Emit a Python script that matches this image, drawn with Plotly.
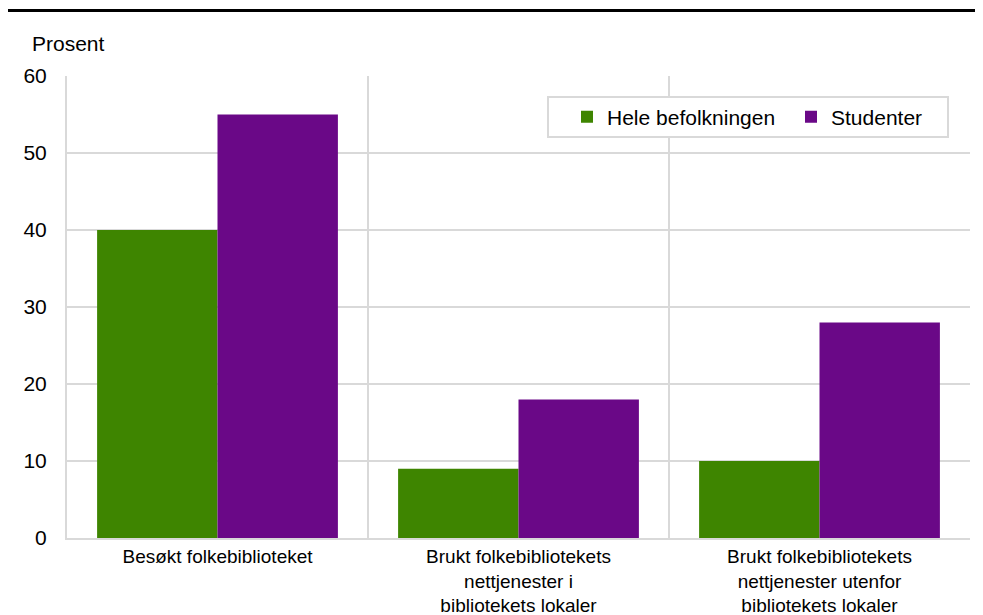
import plotly.graph_objects as go

categories = [
    "Besøkt folkebiblioteket",
    "Brukt folkebibliotekets<br>nettjenester i<br>bibliotekets lokaler",
    "Brukt folkebibliotekets<br>nettjenester utenfor<br>bibliotekets lokaler",
]
series_names = ["Hele befolkningen", "Studenter"]
hele_befolkningen = [40, 9, 10]
studenter = [55, 18, 28]
y_ticks = [0, 10, 20, 30, 40, 50, 60]

GREEN = "#3E8500"
PURPLE = "#6A0887"
GRID = "#D9D9D9"
FONT = "Liberation Sans, Arial, sans-serif"

# page offset (default body margin of the html page)
OFF = 8
W, H = 983, 615 - OFF
# plot area in window pixels
PX_L, PX_R, PX_T, PX_B = 67, 970, 76, 538
L = PX_L - OFF
R = (W + OFF) - PX_R
T = PX_T - OFF
B = (H + OFF) - PX_B
pw, ph = W - L - R, H - T - B


def px_x(x):
    return (x - OFF - L) / pw


def px_y(y):
    return (PX_B - y) / ph


fig = go.Figure()
fig.add_trace(go.Bar(x=categories, y=hele_befolkningen, name=series_names[0],
                     marker=dict(color=GREEN, line=dict(width=0)), legend="legend"))
fig.add_trace(go.Bar(x=categories, y=studenter, name=series_names[1],
                     marker=dict(color=PURPLE, line=dict(width=0)), legend="legend2"))

leg_common = dict(orientation="h", yanchor="middle", xanchor="left",
                  bgcolor="rgba(0,0,0,0)", borderwidth=0, font=dict(size=21),
                  itemwidth=30)

fig.update_layout(
    width=W, height=H,
    margin=dict(l=L, r=R, t=T, b=B, pad=0, autoexpand=False),
    paper_bgcolor="white", plot_bgcolor="white",
    font=dict(family=FONT, size=21, color="black"),
    barmode="group", bargap=0.2, bargroupgap=0,
    showlegend=True,
    legend=dict(x=px_x(567), y=px_y(117), **leg_common),
    legend2=dict(x=px_x(791), y=px_y(117), **leg_common),
    xaxis=dict(type="category", tickson="boundaries", showgrid=True, gridcolor=GRID, gridwidth=2,
               showline=True, linecolor=GRID, linewidth=2, ticks="", ticklen=0,
               tickfont=dict(size=19),
               range=[-0.5, 2.5], zeroline=False, fixedrange=True, automargin=False),
    yaxis=dict(range=[0, 60], tickvals=y_ticks, showgrid=True, gridcolor=GRID, gridwidth=2,
               showline=True, linecolor=GRID, linewidth=2, ticks="",
               ticklabelstandoff=14, tickfont=dict(size=21), zeroline=False,
               fixedrange=True, automargin=False),
    shapes=[
        dict(type="line", xref="paper", yref="paper", x0=px_x(5), x1=px_x(983),
             y0=px_y(10.5), y1=px_y(10.5), line=dict(color="black", width=3)),
        dict(type="rect", xref="paper", yref="paper", x0=px_x(548), x1=px_x(948),
             y0=px_y(137), y1=px_y(97), line=dict(color=GRID, width=2), fillcolor="white",
             layer="above"),
    ],
    annotations=[
        dict(text="Prosent", xref="paper", yref="paper", x=px_x(30), y=px_y(44),
             xanchor="left", yanchor="middle", showarrow=False, font=dict(size=21)),
    ],
)

fig.write_html("out.html")
